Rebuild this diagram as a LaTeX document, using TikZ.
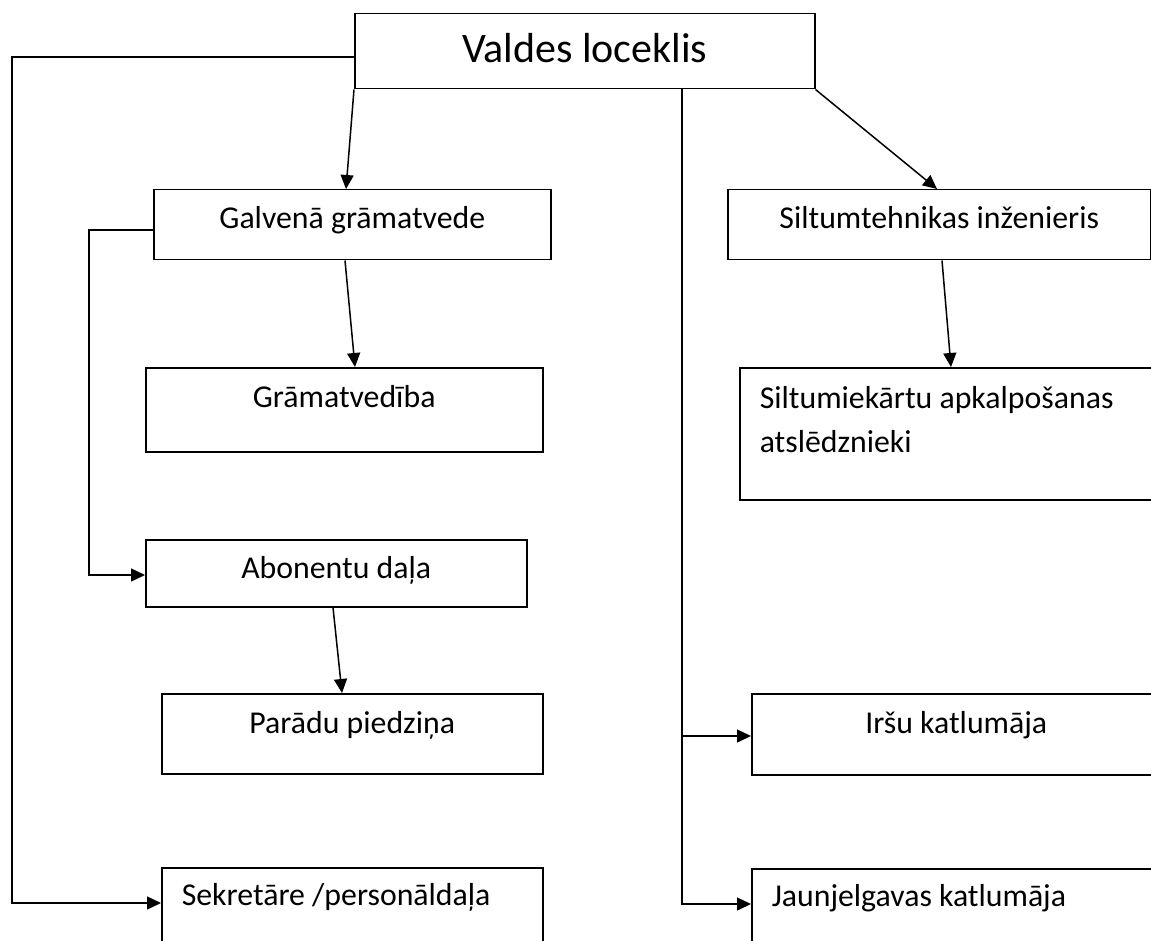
\documentclass[tikz,border=0pt]{standalone}
\usepackage{fontspec}
\setmainfont{Carlito}
\usetikzlibrary{arrows.meta}
\begin{document}
\begin{tikzpicture}[x=1pt,y=-1pt,
  box/.style={draw, line width=1.5pt, anchor=north west, inner xsep=0pt, inner ysep=0pt, font=\fontsize{31.8}{44}\selectfont},
  lbox/.style={box, inner xsep=20pt, align=flush left},
  conn/.style={line width=1.5pt, -{Triangle[length=14pt,width=13pt]}},
  plain/.style={line width=1.5pt}
]
\useasboundingbox (0,0) rectangle (1151,941);
\clip (0,0) rectangle (1151,941);
\fill[white] (0,0) rectangle (1151,941);

\node[box, font=\fontsize{42}{50}\selectfont, minimum width=460pt, text height=49pt, text depth=26pt] (valdes) at (354,13) {Valdes loceklis};
\node[box, minimum width=397pt, text height=39pt, text depth=31pt] (galv) at (153,189) {Galvenā grāmatvede};
\node[box, minimum width=397pt, text height=40pt, text depth=44pt] (gram) at (145,367) {Grāmatvedība};
\node[box, minimum width=381pt, text height=39pt, text depth=28pt] (abon) at (145,539) {Abonentu daļa};
\node[box, minimum width=381pt, text height=40pt, text depth=40pt] (parad) at (161,693) {Parādu piedziņa};
\node[lbox, text width=341pt, text height=38pt, text depth=82pt] (sekr) at (161,867) {Sekretāre /personāldaļa};
\node[box, minimum width=423pt, text height=39pt, text depth=31pt] (silt) at (727,189) {Siltumtehnikas inženieris};
\node[lbox, text width=380pt, text height=41pt, text depth=91pt] (siltm) at (739,367) {Siltumiekārtu apkalpošanas\\atslēdznieki};
\node[box, minimum width=409pt, text height=40pt, text depth=41pt] (irsu) at (751,693) {Iršu katlumāja};
\node[lbox, text width=380pt, text height=38pt, text depth=82pt] (jaun) at (751,868) {Jaunjelgavas katlumāja};

\draw[conn] (valdes.south west) -- (galv.north west -| 346,0);
\draw[conn] (valdes.south east) -- (silt.north west -| 937,0);
\draw[conn] (galv.south west -| 345,0) -- (gram.north west -| 355,0);
\draw[conn] (silt.south west -| 942,0) -- (siltm.north west -| 951,0);
\draw[conn] (abon.south west -| 333,0) -- (parad.north west -| 342,0);
\draw[conn] (valdes.north west |- 0,57) -- ++(-342,0) |- (sekr.west |- 0,903);
\draw[conn] (galv.north west |- 0,230) -- ++(-64,0) |- (abon.west |- 0,575);
\coordinate (br) at (682,736);
\draw[conn] (valdes.south west -| 682,0) |- (jaun.west |- 0,904);
\draw[conn] (br) -- (irsu.west |- 0,736);
\end{tikzpicture}
\end{document}
